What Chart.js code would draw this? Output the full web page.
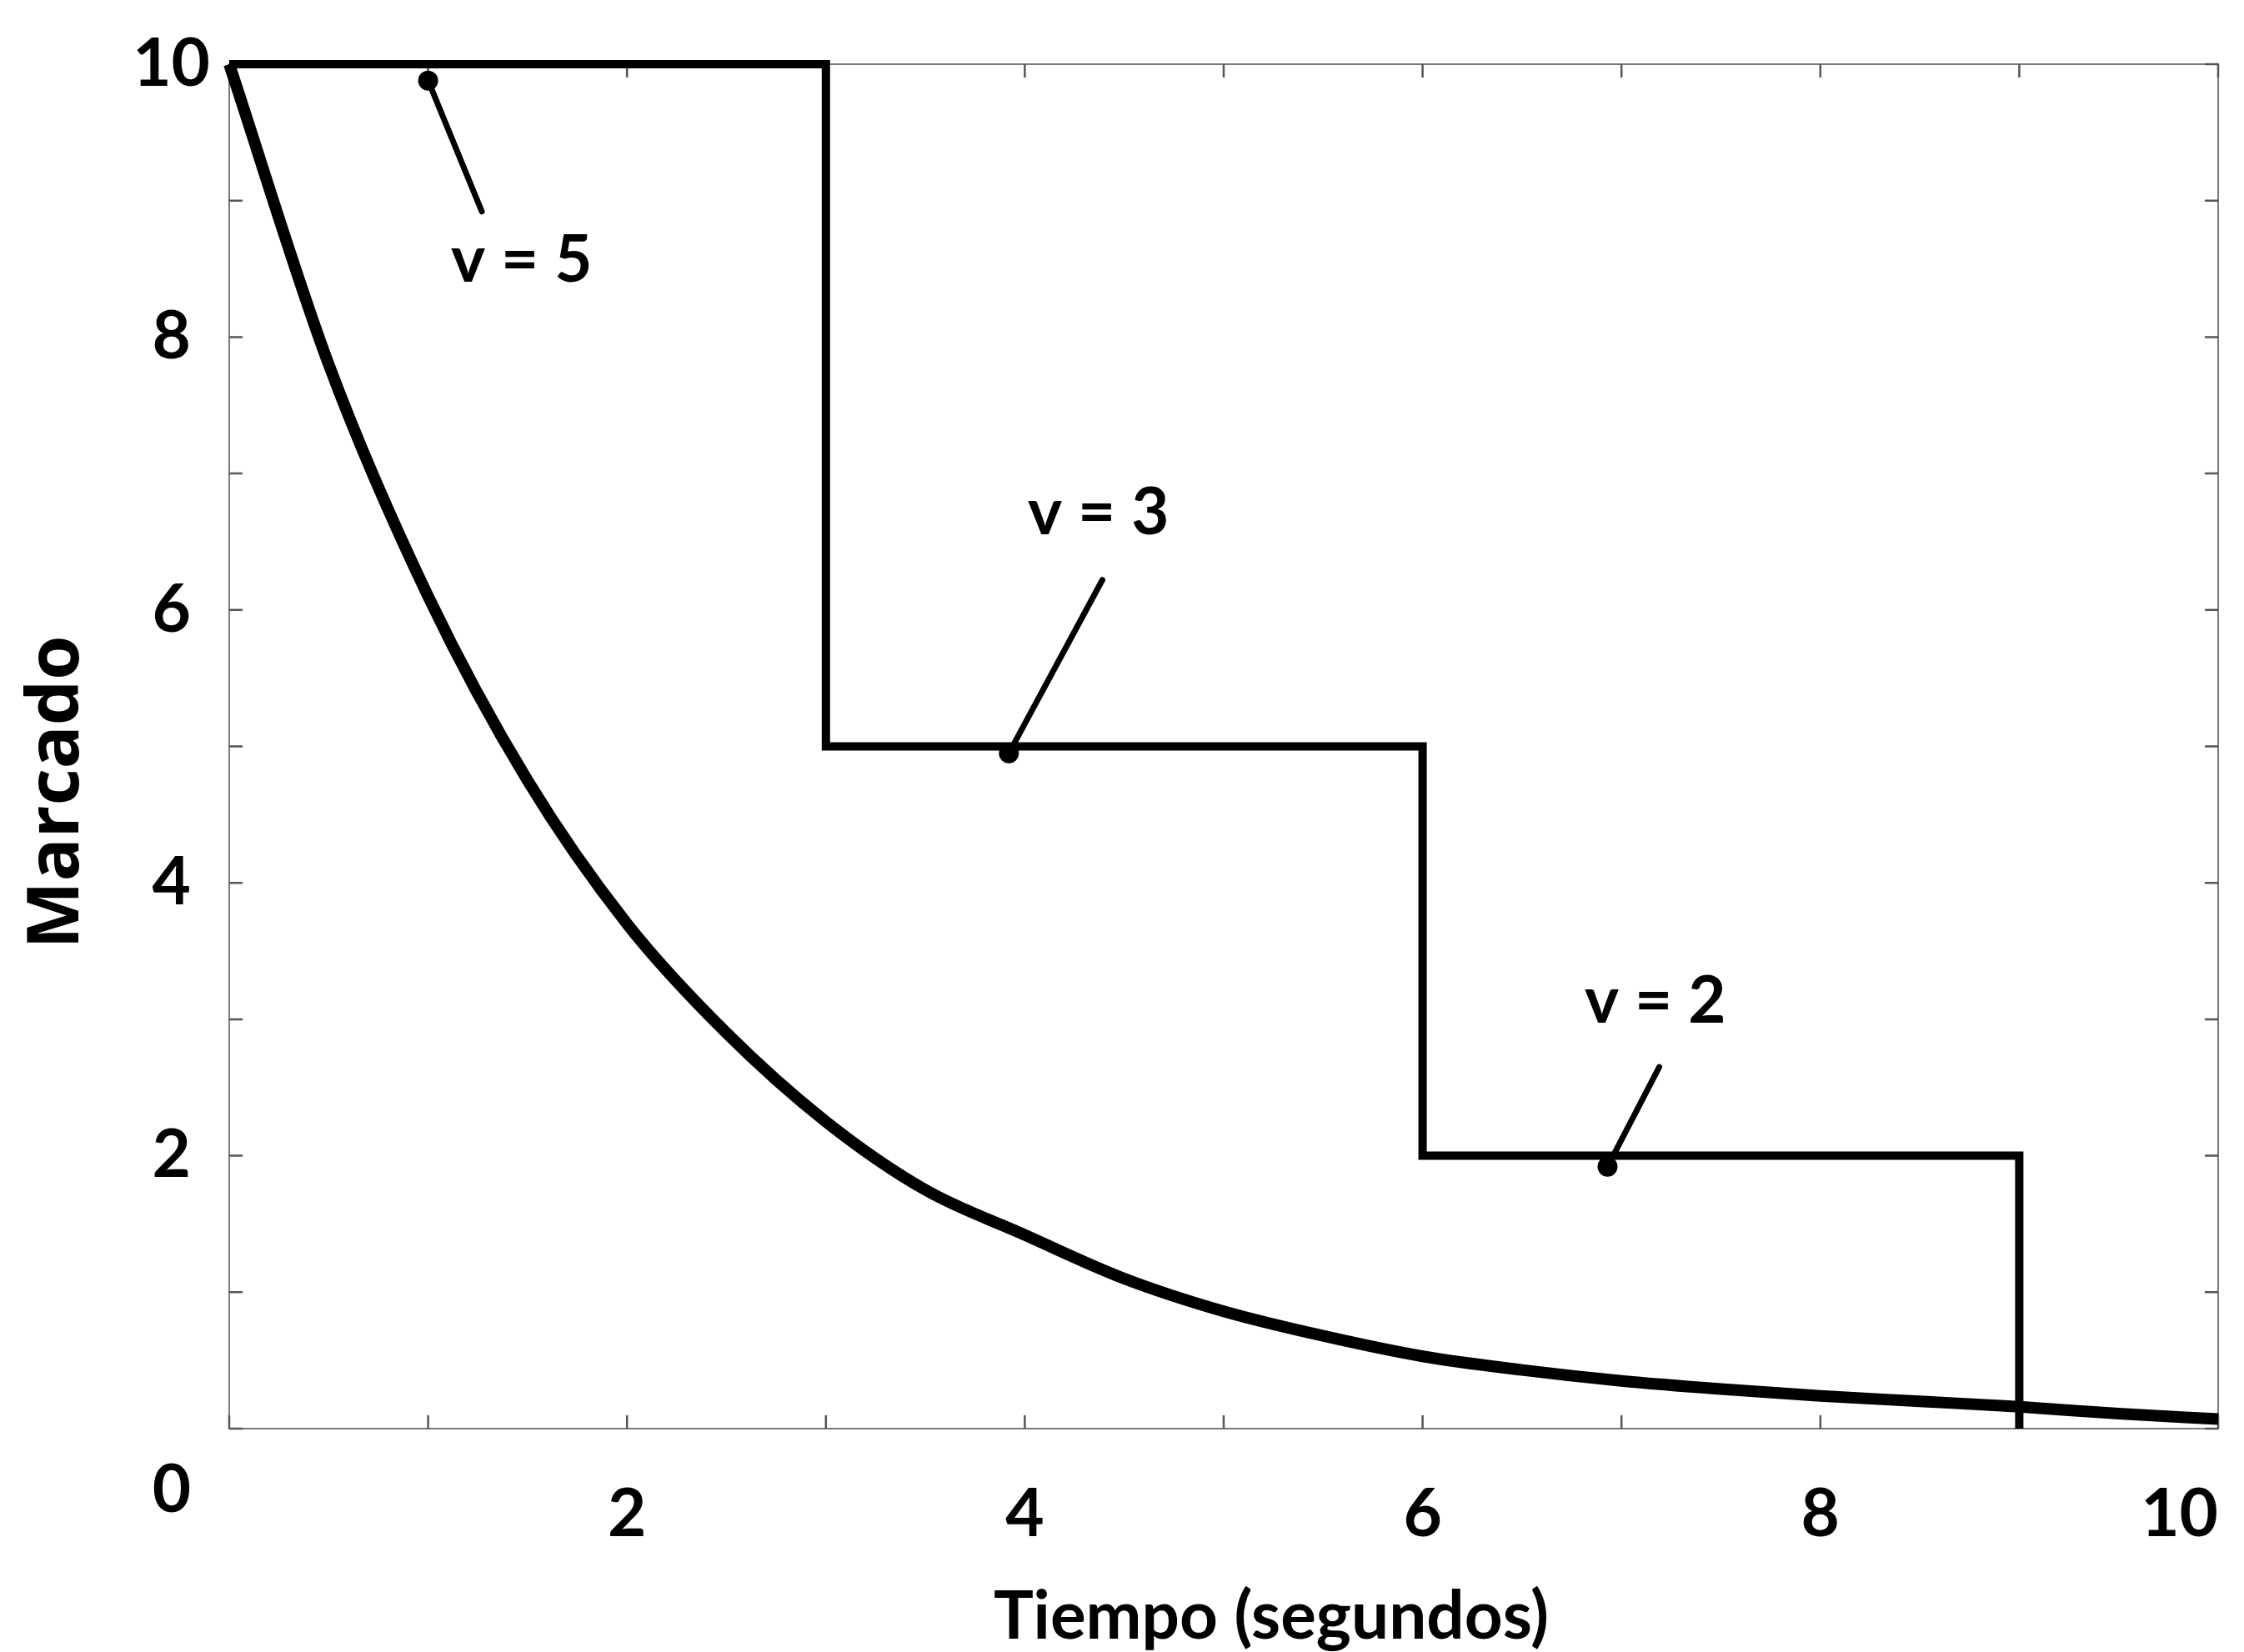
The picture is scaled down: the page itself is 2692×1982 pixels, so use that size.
<!DOCTYPE html>
<html>
<head>
<meta charset="utf-8">
<script src="https://cdn.jsdelivr.net/npm/chart.js@4.4.1/dist/chart.umd.min.js"></script>
<style>
    html, body { margin: 0; padding: 0; background: #fff; }
    #wrap { width: 2692px; height: 1982px; }
</style>
</head>
<body>
<div id="wrap"><canvas id="chart" width="2692" height="1982"></canvas></div>
<script>
// curva continua (decaimiento)
var tiempo = [0, 0.5, 1, 1.5, 2, 2.5, 3, 3.5, 4, 4.5, 5, 5.5, 6, 6.5, 7, 7.5, 8, 8.5, 9, 9.5, 10];
var marcado = [10, 7.8, 6.1, 4.75, 3.7, 2.9, 2.25, 1.75, 1.42, 1.1, 0.86, 0.68, 0.53, 0.43, 0.35, 0.29, 0.24, 0.2, 0.16, 0.11, 0.07];

// escalones
var pasoT = [0, 3, 6, 9];
var pasoM = [10, 5, 2, 0];

// etiquetas de velocidad y el punto que señalan
var etiquetas = ['v = 5', 'v = 3', 'v = 2'];
var puntoT = [1.0, 3.92, 6.93];
var puntoM = [9.88, 4.95, 1.92];

var ticksX = [2, 4, 6, 8, 10];
var ticksY = [2, 4, 6, 8, 10];

// dónde acaba cada línea guía y dónde va su texto (en unidades de los ejes)
var guias = [
    { fin: [1.27, 8.92], texto: [1.47, 8.56] },
    { fin: [4.39, 6.22], texto: [4.37, 6.71] },
    { fin: [7.19, 2.65], texto: [7.17, 3.13] }
];

var fuenteNum = { family: 'Lato', weight: 'bold', size: 80 };

var datasets = [
    {
        data: tiempo.map(function (t, i) { return { x: t, y: marcado[i] }; }),
        borderColor: '#000',
        borderWidth: 14,
        pointRadius: 0,
        cubicInterpolationMode: 'monotone',
        clip: 14
    },
    {
        data: pasoT.map(function (t, i) { return { x: t, y: pasoM[i] }; }),
        borderColor: '#000',
        borderWidth: 10,
        pointRadius: 0,
        stepped: 'before',
        clip: 14
    }
];

etiquetas.forEach(function (et, i) {
    datasets.push({
        data: [{ x: puntoT[i], y: puntoM[i] }, { x: guias[i].fin[0], y: guias[i].fin[1] }],
        borderColor: '#000',
        borderWidth: 7,
        borderCapStyle: 'round',
        pointRadius: [12, 0],
        pointBackgroundColor: '#000',
        pointBorderWidth: 0,
        clip: 14
    });
});

var marco = {
    id: 'marco',
    beforeDatasetsDraw: function (chart) {
        var ctx = chart.ctx, a = chart.chartArea;
        var sx = chart.scales.x, sy = chart.scales.y;
        ctx.save();
        ctx.strokeStyle = '#7a7a7a';
        ctx.lineWidth = 2;
        ctx.strokeRect(a.left, a.top, a.right - a.left, a.bottom - a.top);
        ctx.lineWidth = 2.5;
        ctx.strokeStyle = '#555';
        ctx.beginPath();
        sx.ticks.forEach(function (t) {
            var px = sx.getPixelForValue(t.value);
            ctx.moveTo(px, a.bottom); ctx.lineTo(px, a.bottom - 16);
            ctx.moveTo(px, a.top); ctx.lineTo(px, a.top + 16);
        });
        sy.ticks.forEach(function (t) {
            var py = sy.getPixelForValue(t.value);
            ctx.moveTo(a.left, py); ctx.lineTo(a.left + 16, py);
            ctx.moveTo(a.right, py); ctx.lineTo(a.right - 16, py);
        });
        ctx.stroke();
        ctx.restore();
    },
    afterDatasetsDraw: function (chart) {
        var ctx = chart.ctx, a = chart.chartArea;
        var sx = chart.scales.x, sy = chart.scales.y;
        ctx.save();
        ctx.fillStyle = '#000';
        ctx.textAlign = 'center';
        ctx.textBaseline = 'middle';
        ctx.font = 'bold 78px Lato';
        etiquetas.forEach(function (et, i) {
            ctx.fillText(et, sx.getPixelForValue(guias[i].texto[0]), sy.getPixelForValue(guias[i].texto[1]));
        });
        // origen compartido por los dos ejes
        ctx.font = 'bold 80px Lato';
        ctx.fillText('0', a.left - 69, sy.getPixelForValue(0) + 74);

        ctx.textBaseline = 'alphabetic';
        ctx.fillText('Tiempo (segundos)', (a.left + a.right) / 2 + 57, 1966);

        ctx.translate(69, (a.top + a.bottom) / 2 + 55);
        ctx.rotate(-Math.PI / 2);
        ctx.textBaseline = 'middle';
        ctx.font = 'bold 86px "Open Sans"';
        ctx.fillText('Marcado', 0, 0);
        ctx.restore();
    }
};

var chart = new Chart(document.getElementById('chart').getContext('2d'), {
    type: 'line',
    data: { datasets: datasets },
    options: {
        responsive: false,
        animation: false,
        layout: { padding: { top: 77, right: 31, left: 0, bottom: 0 } },
        plugins: {
            legend: { display: false },
            tooltip: { enabled: false }
        },
        scales: {
            x: {
                type: 'linear',
                min: 0,
                max: 10,
                border: { display: false },
                grid: { display: false, drawTicks: false },
                ticks: {
                    stepSize: 1,
                    autoSkip: false,
                    maxRotation: 0,
                    align: 'inner',
                    padding: 55,
                    color: '#000',
                    font: fuenteNum,
                    callback: function (v) { return ticksX.indexOf(v) >= 0 ? String(v) : ''; }
                },
                afterFit: function (s) {
                    s.height = 268;
                    // el relleno de las etiquetas no debe estrechar el área del gráfico
                    s.paddingLeft = 0;
                    s.paddingRight = 0;
                }
            },
            y: {
                min: 0,
                max: 10,
                border: { display: false },
                grid: { display: false, drawTicks: false },
                ticks: {
                    stepSize: 1,
                    autoSkip: false,
                    crossAlign: 'center',
                    padding: 23,
                    color: '#000',
                    font: fuenteNum,
                    callback: function (v) { return ticksY.indexOf(v) >= 0 ? String(v) : ''; }
                },
                afterFit: function (s) { s.width = 275; }
            }
        }
    },
    plugins: [marco]
});
</script>
</body>
</html>
